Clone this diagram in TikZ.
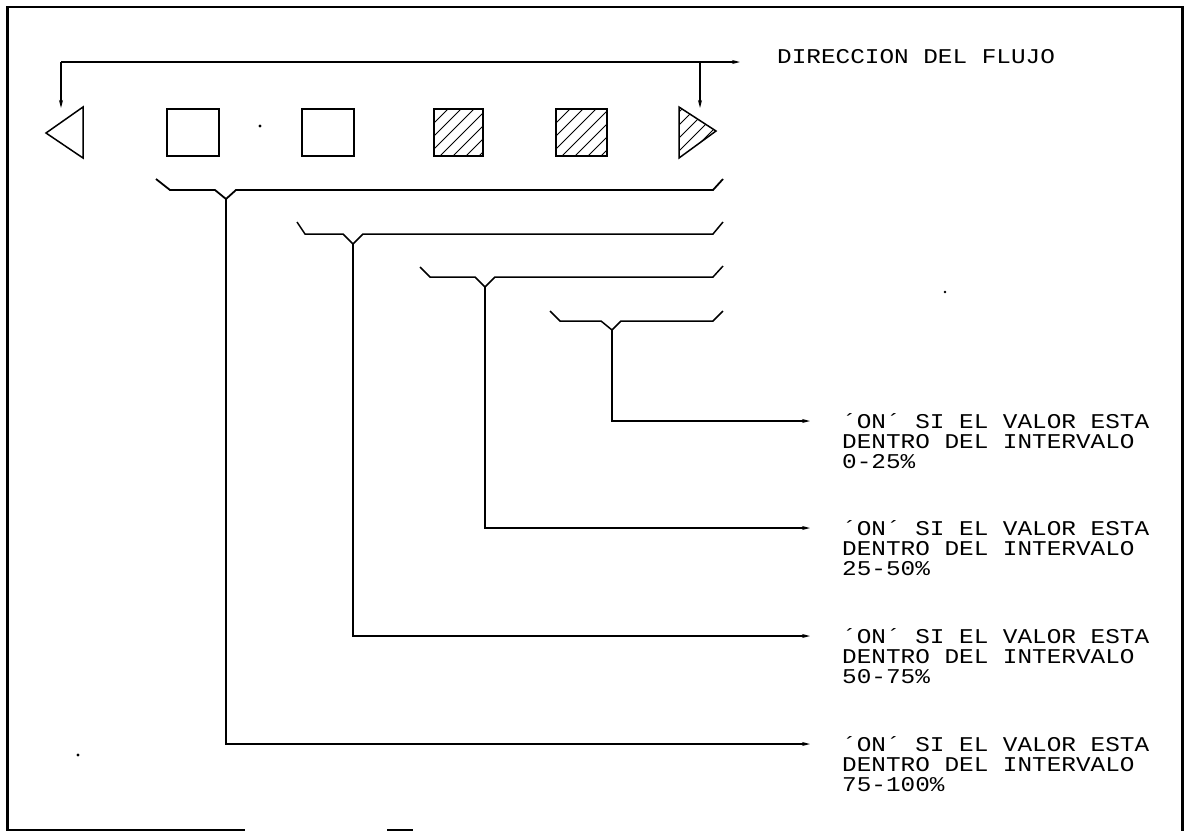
\documentclass[tikz,border=0pt]{standalone}
\usepackage{fontspec}
\newfontfamily\cadfont[FakeStretch=1.16]{Liberation Mono}
\usetikzlibrary{arrows.meta}
\begin{document}
\begin{tikzpicture}[x=1pt,y=-1pt,
  ln/.style={line width=1.5pt},
  arr/.style={line width=1.5pt,-{Stealth[length=8pt,width=4pt]}},
  lbl/.style={font=\cadfont\fontsize{21}{20}\selectfont, align=left, inner sep=0pt, anchor=west},
  box/.style={draw, line width=1.5pt},
  hatch/.style={line width=0.9pt},
  speck/.style={fill=black}]
\useasboundingbox (0,0) rectangle (1186,831);
% frame
\draw[line width=3pt] (7,6) -- (7,831);
\draw[line width=2pt] (7,7) -- (1182,7);
\draw[line width=3pt] (1182,6) -- (1182,831);
\draw[line width=2pt] (8,830) -- (245,830);
\draw[line width=2pt] (387,830) -- (413,830);
% flow direction
\coordinate (fl) at (61,62);
\coordinate (fr) at (740,62);
\coordinate (fd) at (700,62);
\coordinate (tl) at (61,108);
\coordinate (tr) at (700,108);
\node[lbl] (flow) at (777,57) {DIRECCION DEL FLUJO};
\draw[arr] (fl) -- (fr);
\draw[arr] (fl) -- (tl);
\draw[arr] (fd) -- (tr);
% symbols
\draw[ln] (46,133) -- (83,107) -- (83,158) -- cycle;
\draw[box] (167,109) rectangle (219,156);
\draw[box] (302,109) rectangle (354,156);
\begin{scope}
  \clip (434,109) rectangle (483,156);
  \foreach \k in {0,13,...,110} \draw[hatch] (384+\k,160) -- ++(60,-60);
\end{scope}
\draw[box] (434,109) rectangle (483,156);
\begin{scope}
  \clip (556,109) rectangle (607,156);
  \foreach \k in {0,13,...,110} \draw[hatch] (506+\k,160) -- ++(60,-60);
\end{scope}
\draw[box] (556,109) rectangle (607,156);
\begin{scope}
  \clip (679,107) -- (716,131) -- (679,158) -- cycle;
  \foreach \k in {0,13,...,110} \draw[hatch] (629+\k,162) -- ++(60,-60);
\end{scope}
\draw[ln] (679,107) -- (716,131) -- (679,158) -- cycle;
\fill[speck] (260,126) circle (1.6);
\fill[speck] (78,755) circle (1.6);
\fill[speck] (945,292) circle (1.3);
% braces
\coordinate (v1) at (226,199);
\coordinate (v2) at (353,244);
\coordinate (v3) at (485,287);
\coordinate (v4) at (612,330);
\draw[line width=1.8pt] (156,179) -- (170,190) -- (215,190) -- (v1) -- (236,190) -- (713,190) -- (723,179);
\draw[ln] (297,222) -- (305,234) -- (343,234) -- (v2) -- (363,234) -- (713,234) -- (723,222);
\draw[ln] (420,267) -- (430,277) -- (475,277) -- (v3) -- (495,277) -- (713,277) -- (723,266);
\draw[ln] (550,311) -- (560,321) -- (601,321) -- (v4) -- (621,321) -- (713,321) -- (723,311);
% labels
\node[lbl] (t1) at (842,441) {´ON´ SI EL VALOR ESTA\\DENTRO DEL INTERVALO\\0-25\%};
\node[lbl] (t2) at (842,548) {´ON´ SI EL VALOR ESTA\\DENTRO DEL INTERVALO\\25-50\%};
\node[lbl] (t3) at (842,656) {´ON´ SI EL VALOR ESTA\\DENTRO DEL INTERVALO\\50-75\%};
\node[lbl] (t4) at (842,764) {´ON´ SI EL VALOR ESTA\\DENTRO DEL INTERVALO\\75-100\%};
\coordinate (a1) at (810,421);
\coordinate (a2) at (810,528);
\coordinate (a3) at (810,636);
\coordinate (a4) at (810,744);
\draw[arr] (v4) |- (a1);
\draw[arr] (v3) |- (a2);
\draw[arr] (v2) |- (a3);
\draw[arr] (v1) |- (a4);
\end{tikzpicture}
\end{document}
